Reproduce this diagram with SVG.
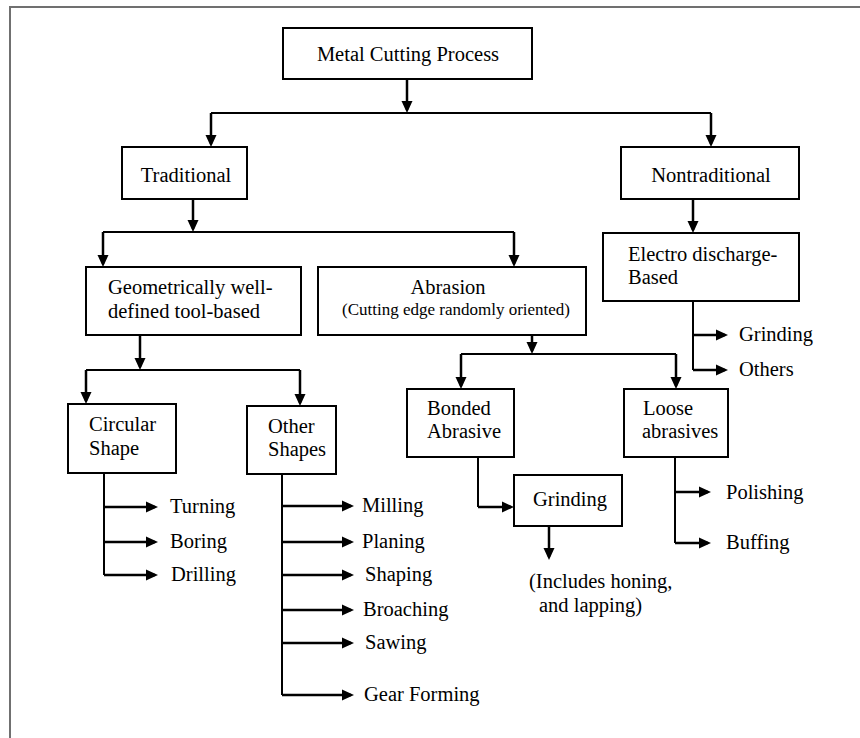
<svg xmlns="http://www.w3.org/2000/svg" width="860" height="738" viewBox="0 0 860 738">
  <style>
    .box { fill: #fff; stroke: #000; stroke-width: 2; }
    .ln { fill: none; stroke: #000; stroke-width: 2; }
    .ar { fill: none; stroke: #000; stroke-width: 2.5; marker-end: url(#ah); }
    .frame { fill: none; stroke: #707070; stroke-width: 2; }
    .lbl { font-family: 'Liberation Serif', 'DejaVu Serif', serif; font-size: 20.5px; fill: #000; }
    .small { font-size: 17px; }
    .mid { text-anchor: middle; }
  </style>
  <defs>
    <marker id="ah" viewBox="0 0 12 12" markerWidth="12" markerHeight="12" refX="9" refY="6" orient="auto" markerUnits="userSpaceOnUse">
      <path d="M0,0.5 L12,6 L0,11.5 z" fill="#000"/>
    </marker>
  </defs>
  <rect width="860" height="738" fill="#fff"/>

  <!-- page frame (top and left edges) -->
  <path class="frame" d="M10,738 V7 H860"/>

  <!-- connectors -->
  <g id="connectors">
    <path class="ar" d="M407,79 V110"/>
    <path class="ln" d="M211,113 H711"/>
    <path class="ar" d="M211,113 V144"/>
    <path class="ar" d="M711,113 V144"/>

    <path class="ar" d="M193,199 V229"/>
    <path class="ln" d="M103,232 H514"/>
    <path class="ar" d="M103,232 V264"/>
    <path class="ar" d="M514,232 V264"/>

    <path class="ar" d="M693,199 V230"/>
    <path class="ln" d="M693,301 V370"/>
    <path class="ar" d="M693,335 H725"/>
    <path class="ar" d="M693,370 H725"/>

    <path class="ar" d="M140,335 V367"/>
    <path class="ln" d="M86,370 H300"/>
    <path class="ar" d="M86,370 V401"/>
    <path class="ar" d="M300,370 V403"/>

    <path class="ln" d="M104,473 V575"/>
    <path class="ar" d="M104,507 H155"/>
    <path class="ar" d="M104,542 H155"/>
    <path class="ar" d="M104,575 H155"/>

    <path class="ln" d="M282,474 V695"/>
    <path class="ar" d="M282,506 H351"/>
    <path class="ar" d="M282,542 H351"/>
    <path class="ar" d="M282,575 H351"/>
    <path class="ar" d="M282,610 H351"/>
    <path class="ar" d="M282,643 H351"/>
    <path class="ar" d="M282,695 H351"/>

    <path class="ar" d="M532,335 V351"/>
    <path class="ln" d="M461,354 H676"/>
    <path class="ar" d="M461,354 V386"/>
    <path class="ar" d="M676,354 V386"/>

    <path class="ln" d="M478,457 V507"/>
    <path class="ar" d="M478,507 H511"/>
    <path class="ar" d="M549,526 V557"/>

    <path class="ln" d="M675,457 V543"/>
    <path class="ar" d="M675,492 H708"/>
    <path class="ar" d="M675,543 H708"/>
  </g>

  <!-- boxed nodes -->
  <g id="metal-cutting">
    <rect class="box" x="283" y="28" width="249" height="51"/>
    <text class="lbl mid" x="408" y="61">Metal Cutting Process</text>
  </g>
  <g id="traditional">
    <rect class="box" x="122" y="147" width="125" height="52"/>
    <text class="lbl mid" x="186" y="182">Traditional</text>
  </g>
  <g id="nontraditional">
    <rect class="box" x="621" y="147" width="178" height="52"/>
    <text class="lbl mid" x="711" y="182">Nontraditional</text>
  </g>
  <g id="geometric">
    <rect class="box" x="86" y="267" width="215" height="68"/>
    <text class="lbl" x="108" y="294">Geometrically well-</text>
    <text class="lbl" x="108" y="318">defined tool-based</text>
  </g>
  <g id="abrasion">
    <rect class="box" x="318" y="267" width="268" height="68"/>
    <text class="lbl mid" x="448" y="294">Abrasion</text>
    <text class="lbl mid small" x="456" y="315">(Cutting edge randomly oriented)</text>
  </g>
  <g id="electro">
    <rect class="box" x="603" y="233" width="196" height="68"/>
    <text class="lbl" x="628" y="261">Electro discharge-</text>
    <text class="lbl" x="628" y="284">Based</text>
  </g>
  <g id="circular">
    <rect class="box" x="68" y="404" width="108" height="69"/>
    <text class="lbl" x="89" y="431">Circular</text>
    <text class="lbl" x="89" y="455">Shape</text>
  </g>
  <g id="other-shapes">
    <rect class="box" x="247" y="406" width="89" height="68"/>
    <text class="lbl" x="268" y="433">Other</text>
    <text class="lbl" x="268" y="456">Shapes</text>
  </g>
  <g id="bonded">
    <rect class="box" x="407" y="389" width="107" height="68"/>
    <text class="lbl" x="427" y="415">Bonded</text>
    <text class="lbl" x="427" y="438">Abrasive</text>
  </g>
  <g id="loose">
    <rect class="box" x="624" y="389" width="104" height="68"/>
    <text class="lbl" x="643" y="415">Loose</text>
    <text class="lbl" x="642" y="438">abrasives</text>
  </g>
  <g id="grinding-box">
    <rect class="box" x="514" y="475" width="108" height="51"/>
    <text class="lbl" x="533" y="506">Grinding</text>
  </g>

  <!-- leaf labels -->
  <g id="edm-grinding"><text class="lbl" x="739" y="341">Grinding</text></g>
  <g id="edm-others"><text class="lbl" x="739" y="376">Others</text></g>
  <g id="turning"><text class="lbl" x="170" y="513">Turning</text></g>
  <g id="boring"><text class="lbl" x="170" y="548">Boring</text></g>
  <g id="drilling"><text class="lbl" x="171" y="581">Drilling</text></g>
  <g id="milling"><text class="lbl" x="362" y="512">Milling</text></g>
  <g id="planing"><text class="lbl" x="362" y="548">Planing</text></g>
  <g id="shaping"><text class="lbl" x="365" y="581">Shaping</text></g>
  <g id="broaching"><text class="lbl" x="363" y="616">Broaching</text></g>
  <g id="sawing"><text class="lbl" x="365" y="649">Sawing</text></g>
  <g id="gear-forming"><text class="lbl" x="364" y="701">Gear Forming</text></g>
  <g id="polishing"><text class="lbl" x="726" y="499">Polishing</text></g>
  <g id="buffing"><text class="lbl" x="726" y="549">Buffing</text></g>
  <g id="honing-note">
    <text class="lbl" x="529" y="588">(Includes honing,</text>
    <text class="lbl" x="539" y="612">and lapping)</text>
  </g>
</svg>
